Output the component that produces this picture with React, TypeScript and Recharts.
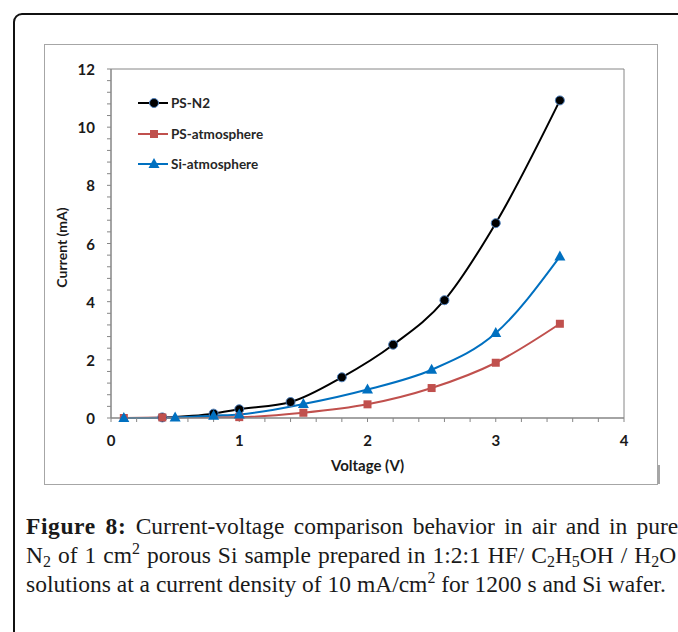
import React from 'react';
import { LineChart, Line, XAxis, YAxis, Legend, ReferenceLine } from 'recharts';

// voltage (V) / current (mA)
const psN2Voltage = [0.4, 0.8, 1.0, 1.4, 1.8, 2.2, 2.6, 3.0, 3.5];
const psN2Current = [0.02, 0.15, 0.3, 0.55, 1.4, 2.52, 4.05, 6.7, 10.92];

const psAtmVoltage = [0.1, 0.4, 1.0, 1.5, 2.0, 2.5, 3.0, 3.5];
const psAtmCurrent = [0.0, 0.02, 0.03, 0.18, 0.47, 1.03, 1.9, 3.24];

const siAtmVoltage = [0.1, 0.5, 0.8, 1.0, 1.5, 2.0, 2.5, 3.0, 3.5];
const siAtmCurrent = [0.0, 0.02, 0.08, 0.12, 0.48, 0.98, 1.66, 2.92, 5.55];

const xMajorTicks = [0, 1, 2, 3, 4];
const yMajorTicks = [0, 2, 4, 6, 8, 10, 12];
const xMinorStep = 0.2;
const yMinorStep = 0.4;

const BLACK = '#000000';
const RED = '#c0504d';
const BLUE = '#0070c0';
const AXIS = '#868686';
const FONT = 'Lato, "Open Sans", sans-serif';

const toPoints = (v: number[], i: number[]) => v.map((x, k) => ({ v: x, i: i[k] }));

const psN2Data = toPoints(psN2Voltage, psN2Current);
const psAtmData = toPoints(psAtmVoltage, psAtmCurrent);
const siAtmData = toPoints(siAtmVoltage, siAtmCurrent);

const withMinor = (major: number[], step: number) => {
  const out: number[] = [];
  const last = major[major.length - 1];
  for (let k = 0; k * step <= last + 1e-9; k++) out.push(Math.round(k * step * 100) / 100);
  return out;
};
const xTicks = withMinor(xMajorTicks, xMinorStep);
const yTicks = withMinor(yMajorTicks, yMinorStep);

const isMajor = (v: number, major: number[]) => major.some((m) => Math.abs(m - v) < 1e-6);

const Marker = ({ kind, cx, cy }: { kind: string; cx: number; cy: number }) => {
  if (kind === 'circle')
    return <circle cx={cx} cy={cy} r={4.5} fill={BLACK} stroke="#4f81bd" strokeWidth={1} />;
  if (kind === 'square') return <rect x={cx - 4} y={cy - 4} width={8} height={8} fill={RED} />;
  return <polygon points={`${cx},${cy - 6} ${cx + 5.5},${cy + 4} ${cx - 5.5},${cy + 4}`} fill={BLUE} />;
};

const markerOf: Record<string, string> = {
  'PS-N2': 'circle',
  'PS-atmosphere': 'square',
  'Si-atmosphere': 'triangle',
};

const dotRenderer = (kind: string) => (props: any) => {
  const { cx, cy, index } = props;
  if (cx == null || cy == null) return <g key={`${kind}-${index}`} />;
  return (
    <g key={`${kind}-${index}`}>
      <Marker kind={kind} cx={cx} cy={cy} />
    </g>
  );
};

const XTick = (props: any) => {
  const { x, y, payload } = props;
  if (!isMajor(payload.value, xMajorTicks)) return <g />;
  return (
    <text x={x} y={y + 16} textAnchor="middle" dominantBaseline="central" fontSize={15} fontWeight={700} fill="#1a1a1a" fontFamily={FONT}>
      {payload.value}
    </text>
  );
};

const YTick = (props: any) => {
  const { x, y, payload } = props;
  if (!isMajor(payload.value, yMajorTicks)) return <g />;
  return (
    <text x={x - 10} y={y} textAnchor="end" dominantBaseline="central" fontSize={15} fontWeight={700} fill="#1a1a1a" fontFamily={FONT}>
      {payload.value}
    </text>
  );
};

const renderLegend = (props: any) => {
  const { payload = [] } = props;
  return (
    <div style={{ fontFamily: FONT }}>
      {payload.map((entry: any) => (
        <div key={entry.value} style={{ height: 30.5, display: 'flex', alignItems: 'center' }}>
          <svg width={30} height={14} style={{ marginRight: 3 }}>
            <line x1={0} y1={7} x2={30} y2={7} stroke={entry.color} strokeWidth={2} />
            <Marker kind={markerOf[entry.value]} cx={16} cy={7} />
          </svg>
          <span style={{ fontSize: 13.5, fontWeight: 700, color: '#262626' }}>{entry.value}</span>
        </div>
      ))}
    </div>
  );
};

const Sub = ({ children }: { children: React.ReactNode }) => (
  <span style={{ fontSize: '0.68em', verticalAlign: '-0.25em', lineHeight: 0 }}>{children}</span>
);
const Sup = ({ children }: { children: React.ReactNode }) => (
  <span style={{ fontSize: '0.68em', verticalAlign: '0.55em', lineHeight: 0 }}>{children}</span>
);

const App: React.FC = () => {
  return (
    <div style={{ position: 'absolute', left: 0, top: 0, width: 678, height: 632, overflow: 'hidden', background: '#fff' }}>
      {/* outer article frame */}
      <div
        style={{
          position: 'absolute',
          left: 13,
          top: 13,
          width: 800,
          height: 800,
          border: '2px solid #111',
          borderTopLeftRadius: 9,
        }}
      />
      {/* chart box */}
      <div style={{ position: 'absolute', left: 43.5, top: 43.5, width: 612, height: 439, border: '1.5px solid #a6a6a6' }} />
      <div style={{ position: 'absolute', left: 658, top: 465, width: 1.5, height: 19, background: '#a6a6a6' }} />

      <LineChart
        width={678}
        height={500}
        margin={{ top: 69, right: 54, left: 51, bottom: 22 }}
        style={{ position: 'absolute', left: 0, top: 0 }}
      >
        <XAxis
          dataKey="v"
          type="number"
          domain={[0, 4]}
          ticks={xTicks}
          interval={0}
          height={60}
          tickSize={4}
          axisLine={{ stroke: AXIS, strokeWidth: 1.5 }}
          tickLine={{ stroke: AXIS }}
          tick={<XTick />}
          label={{
            content: (p: any) => {
              const vb = p.viewBox;
              return (
                <text x={vb.x + vb.width / 2} y={vb.y + 47} textAnchor="middle" dominantBaseline="central" fontSize={15} fontWeight={700} fill="#1a1a1a" fontFamily={FONT}>
                  Voltage (V)
                </text>
              );
            },
          }}
        />
        <YAxis
          type="number"
          domain={[0, 12]}
          ticks={yTicks}
          interval={0}
          width={60}
          tickSize={4}
          axisLine={{ stroke: AXIS, strokeWidth: 1.5 }}
          tickLine={{ stroke: AXIS }}
          tick={<YTick />}
          label={{
            content: (p: any) => {
              const vb = p.viewBox;
              const cx = vb.x + 10;
              const cy = vb.y + vb.height / 2 + 4;
              return (
                <text x={cx} y={cy} transform={`rotate(-90 ${cx} ${cy})`} textAnchor="middle" dominantBaseline="central" fontSize={14} fontWeight={700} fill="#1a1a1a" fontFamily={FONT}>
                  Current (mA)
                </text>
              );
            },
          }}
        />
        <ReferenceLine y={12} stroke={AXIS} strokeWidth={1} />
        <ReferenceLine x={4} stroke={AXIS} strokeWidth={1} />
        <Legend
          layout="vertical"
          align="center"
          verticalAlign="middle"
          wrapperStyle={{ left: 138, top: 88, width: 200 }}
          content={renderLegend}
        />
        <Line
          data={psN2Data}
          dataKey="i"
          name="PS-N2"
          type="monotone"
          stroke={BLACK}
          strokeWidth={2}
          dot={dotRenderer('circle')}
          activeDot={false}
          isAnimationActive={false}
        />
        <Line
          data={psAtmData}
          dataKey="i"
          name="PS-atmosphere"
          type="monotone"
          stroke={RED}
          strokeWidth={2}
          dot={dotRenderer('square')}
          activeDot={false}
          isAnimationActive={false}
        />
        <Line
          data={siAtmData}
          dataKey="i"
          name="Si-atmosphere"
          type="monotone"
          stroke={BLUE}
          strokeWidth={2}
          dot={dotRenderer('triangle')}
          activeDot={false}
          isAnimationActive={false}
        />
      </LineChart>

      {/* caption (justified in the source, so the first two lines are stretched) */}
      <div
        style={{
          position: 'absolute',
          left: 26,
          top: 512,
          fontFamily: '"Liberation Serif", serif',
          fontSize: 23.5,
          lineHeight: '29px',
          color: '#1a1a1a',
          whiteSpace: 'nowrap',
        }}
      >
        <div style={{ wordSpacing: 3.4 }}>
          <b style={{ letterSpacing: 0.6 }}>Figure 8:</b> Current-voltage comparison behavior in air and in pure
        </div>
        <div style={{ wordSpacing: 1.1 }}>
          N<Sub>2</Sub> of 1 cm<Sup>2</Sup> porous Si sample prepared in 1:2:1 HF/ C<Sub>2</Sub>H<Sub>5</Sub>OH / H<Sub>2</Sub>O
        </div>
        <div>
          solutions at a current density of 10 mA/cm<Sup>2</Sup> for 1200 s and Si wafer.
        </div>
      </div>
    </div>
  );
};

export default App;
